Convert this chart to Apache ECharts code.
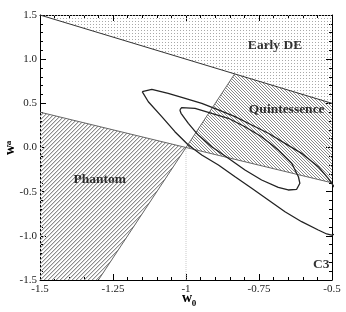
<!DOCTYPE html>
<html><head><meta charset="utf-8">
<script src="https://cdn.jsdelivr.net/npm/echarts@6/dist/echarts.min.js"></script>
<style>html,body{margin:0;padding:0;background:#fff}#c{width:346px;height:312px}</style>
</head><body><div id="c"></div>
<script>
// ---- data ----
const xTickLabels = ['-1.5', '-1.25', '-1', '-0.75', '-0.5'];
const yTickLabels = ['-1.5', '-1.0', '-0.5', '0.0', '0.5', '1.0', '1.5'];
const earlyDERegion = [[-1.5, 1.5], [-0.5, 0.5], [-0.5, 1.5]];
const quintessenceRegion = [[-0.8333, 0.8333], [-0.5, 0.5], [-0.5, -0.4], [-1, 0]];
const phantomRegion = [[-1.5, 0.4], [-1, 0], [-1.3, -1.5], [-1.5, -1.5]];
const earlyDELine = [[-1.5, 1.5], [-0.5, 0.5]];
const lowerLine = [[-1.5, 0.4], [-0.5, -0.4]];
const phantomLine = [[-1.3, -1.5], [-0.8333, 0.8333]];
const refLine = [[-1, -1.5], [-1, 0]];
const outerContour = [
  [-1.150, 0.632], [-1.146, 0.651], [-1.117, 0.659], [-1.061, 0.614], [-1.003, 0.557],
  [-0.946, 0.500], [-0.889, 0.425], [-0.832, 0.349], [-0.775, 0.255], [-0.718, 0.161],
  [-0.661, 0.047], [-0.604, -0.066], [-0.547, -0.217], [-0.513, -0.349], [-0.501, -0.405],
  [-0.47, -0.55], [-0.46, -0.8], [-0.48, -0.97], [-0.501, -0.991], [-0.518, -0.979],
  [-0.547, -0.934], [-0.604, -0.840], [-0.661, -0.727], [-0.718, -0.594], [-0.775, -0.462],
  [-0.832, -0.331], [-0.889, -0.198], [-0.946, -0.085], [-0.992, 0.028], [-1.038, 0.179],
  [-1.083, 0.349], [-1.129, 0.518], [-1.150, 0.632]
];
const innerContour = [
  [-1.021, 0.425], [-1.015, 0.451], [-0.969, 0.444], [-0.912, 0.387], [-0.855, 0.331],
  [-0.798, 0.235], [-0.741, 0.122], [-0.684, -0.028], [-0.638, -0.179], [-0.615, -0.331],
  [-0.610, -0.405], [-0.621, -0.473], [-0.650, -0.481], [-0.684, -0.451], [-0.741, -0.368],
  [-0.798, -0.255], [-0.855, -0.122], [-0.912, 0.009], [-0.958, 0.141], [-0.992, 0.274],
  [-1.017, 0.387], [-1.021, 0.425]
];
const regionLabels = [
  ['Early DE', -0.695, 1.16],
  ['Quintessence', -0.655, 0.432],
  ['Phantom', -1.295, -0.36],
  ['C3', -0.537, -1.322]
];

// ---- patterns ----
function pattern(size, layers) {
  const c = document.createElement('canvas');
  c.width = size; c.height = size;
  const g = c.getContext('2d');
  layers.forEach(l => {
    g.fillStyle = l.color;
    l.pixels.forEach(p => g.fillRect(p[0], p[1], 1, 1));
  });
  return { image: c, repeat: 'repeat' };
}
const dotFill = pattern(3, [{ color: '#a8a8a8', pixels: [[0, 0]] }]);
const fwdHatch = pattern(4, [
  { color: '#8c8c8c', pixels: [[3, 0], [2, 1], [1, 2], [0, 3]] },
  { color: '#d6d6d6', pixels: [[0, 0], [3, 1], [2, 2], [1, 3]] }
]);
const backHatch = pattern(3, [{ color: '#8a8a8a', pixels: [[0, 0], [1, 1], [2, 2]] }]);

function regionSeries(poly, fill) {
  return {
    type: 'custom', data: [0], z: 1, silent: true,
    renderItem: (params, api) => ({
      type: 'polygon',
      shape: { points: poly.map(p => api.coord(p)) },
      style: { fill: fill, stroke: null }
    })
  };
}
function lineSeries(data, color, width, type, z) {
  return {
    type: 'line', data: data, showSymbol: false, symbol: 'none', silent: true, z: z || 3,
    lineStyle: { color: color, width: width, type: type || 'solid' }
  };
}

const font = 'Liberation Serif';
const axisCommon = {
  type: 'value',
  axisLine: { show: true, onZero: false, lineStyle: { color: '#000', width: 1 } },
  axisTick: { show: true, inside: true, length: 6, lineStyle: { color: '#000', width: 1 } },
  minorTick: { show: true, splitNumber: 5, length: 3, lineStyle: { color: '#000', width: 1 } },
  splitLine: { show: false },
  minorSplitLine: { show: false }
};

const chart = echarts.init(document.getElementById('c'), null, { renderer: 'canvas' });
chart.setOption({
  animation: false,
  backgroundColor: '#fff',
  grid: { left: 40, right: 14, top: 15, bottom: 32, containLabel: false },
  xAxis: [
    Object.assign({}, axisCommon, {
      min: -1.5, max: -0.5, interval: 0.25, position: 'bottom',
      axisLabel: { color: '#222', fontFamily: font, fontSize: 11, margin: 4,
        formatter: v => xTickLabels[Math.round((v + 1.5) / 0.25)] }
    }),
    Object.assign({}, axisCommon, {
      min: -1.5, max: -0.5, interval: 0.25, position: 'top', axisLabel: { show: false }
    })
  ],
  yAxis: [
    Object.assign({}, axisCommon, {
      min: -1.5, max: 1.5, interval: 0.5, position: 'left',
      axisLabel: { color: '#222', fontFamily: font, fontSize: 11, margin: 3,
        formatter: v => yTickLabels[Math.round((v + 1.5) / 0.5)] }
    }),
    Object.assign({}, axisCommon, {
      min: -1.5, max: 1.5, interval: 0.5, position: 'right', axisLabel: { show: false }
    })
  ],
  series: [
    regionSeries(earlyDERegion, dotFill),
    regionSeries(quintessenceRegion, backHatch),
    regionSeries(phantomRegion, fwdHatch),
    lineSeries(refLine, '#c8c8c8', 1, 'dotted', 2),
    lineSeries(earlyDELine, '#333', 1),
    lineSeries(lowerLine, '#666', 1),
    lineSeries(phantomLine, '#666', 1),
    lineSeries(outerContour, '#222', 1.3, 'solid', 4),
    lineSeries(innerContour, '#222', 1.3, 'solid', 4),
    {
      type: 'scatter', z: 5, silent: true, symbolSize: 1,
      itemStyle: { color: 'rgba(0,0,0,0)' },
      data: regionLabels.map(l => ({ name: l[0], value: [l[1], l[2]] })),
      label: { show: true, position: 'inside', formatter: '{b}', fontFamily: font,
        fontWeight: 'bold', fontSize: 13.5, color: '#000' }
    }
  ],
  graphic: [
    { type: 'text', x: 187, y: 298, style: { text: 'w', fontFamily: font, fontWeight: 'bold', fontSize: 14, fill: '#000', align: 'center', verticalAlign: 'middle' } },
    { type: 'text', x: 194, y: 304, style: { text: '0', fontFamily: font, fontWeight: 'bold', fontSize: 9, fill: '#000', align: 'center', verticalAlign: 'middle' } },
    { type: 'text', x: 10, y: 150, rotation: Math.PI / 2, style: { text: 'w', fontFamily: font, fontWeight: 'bold', fontSize: 14, fill: '#000', align: 'center', verticalAlign: 'middle' } },
    { type: 'text', x: 9, y: 143, rotation: Math.PI / 2, style: { text: 'a', fontFamily: font, fontWeight: 'bold', fontSize: 9, fill: '#000', align: 'center', verticalAlign: 'middle' } }
  ]
});
</script>
</body></html>
